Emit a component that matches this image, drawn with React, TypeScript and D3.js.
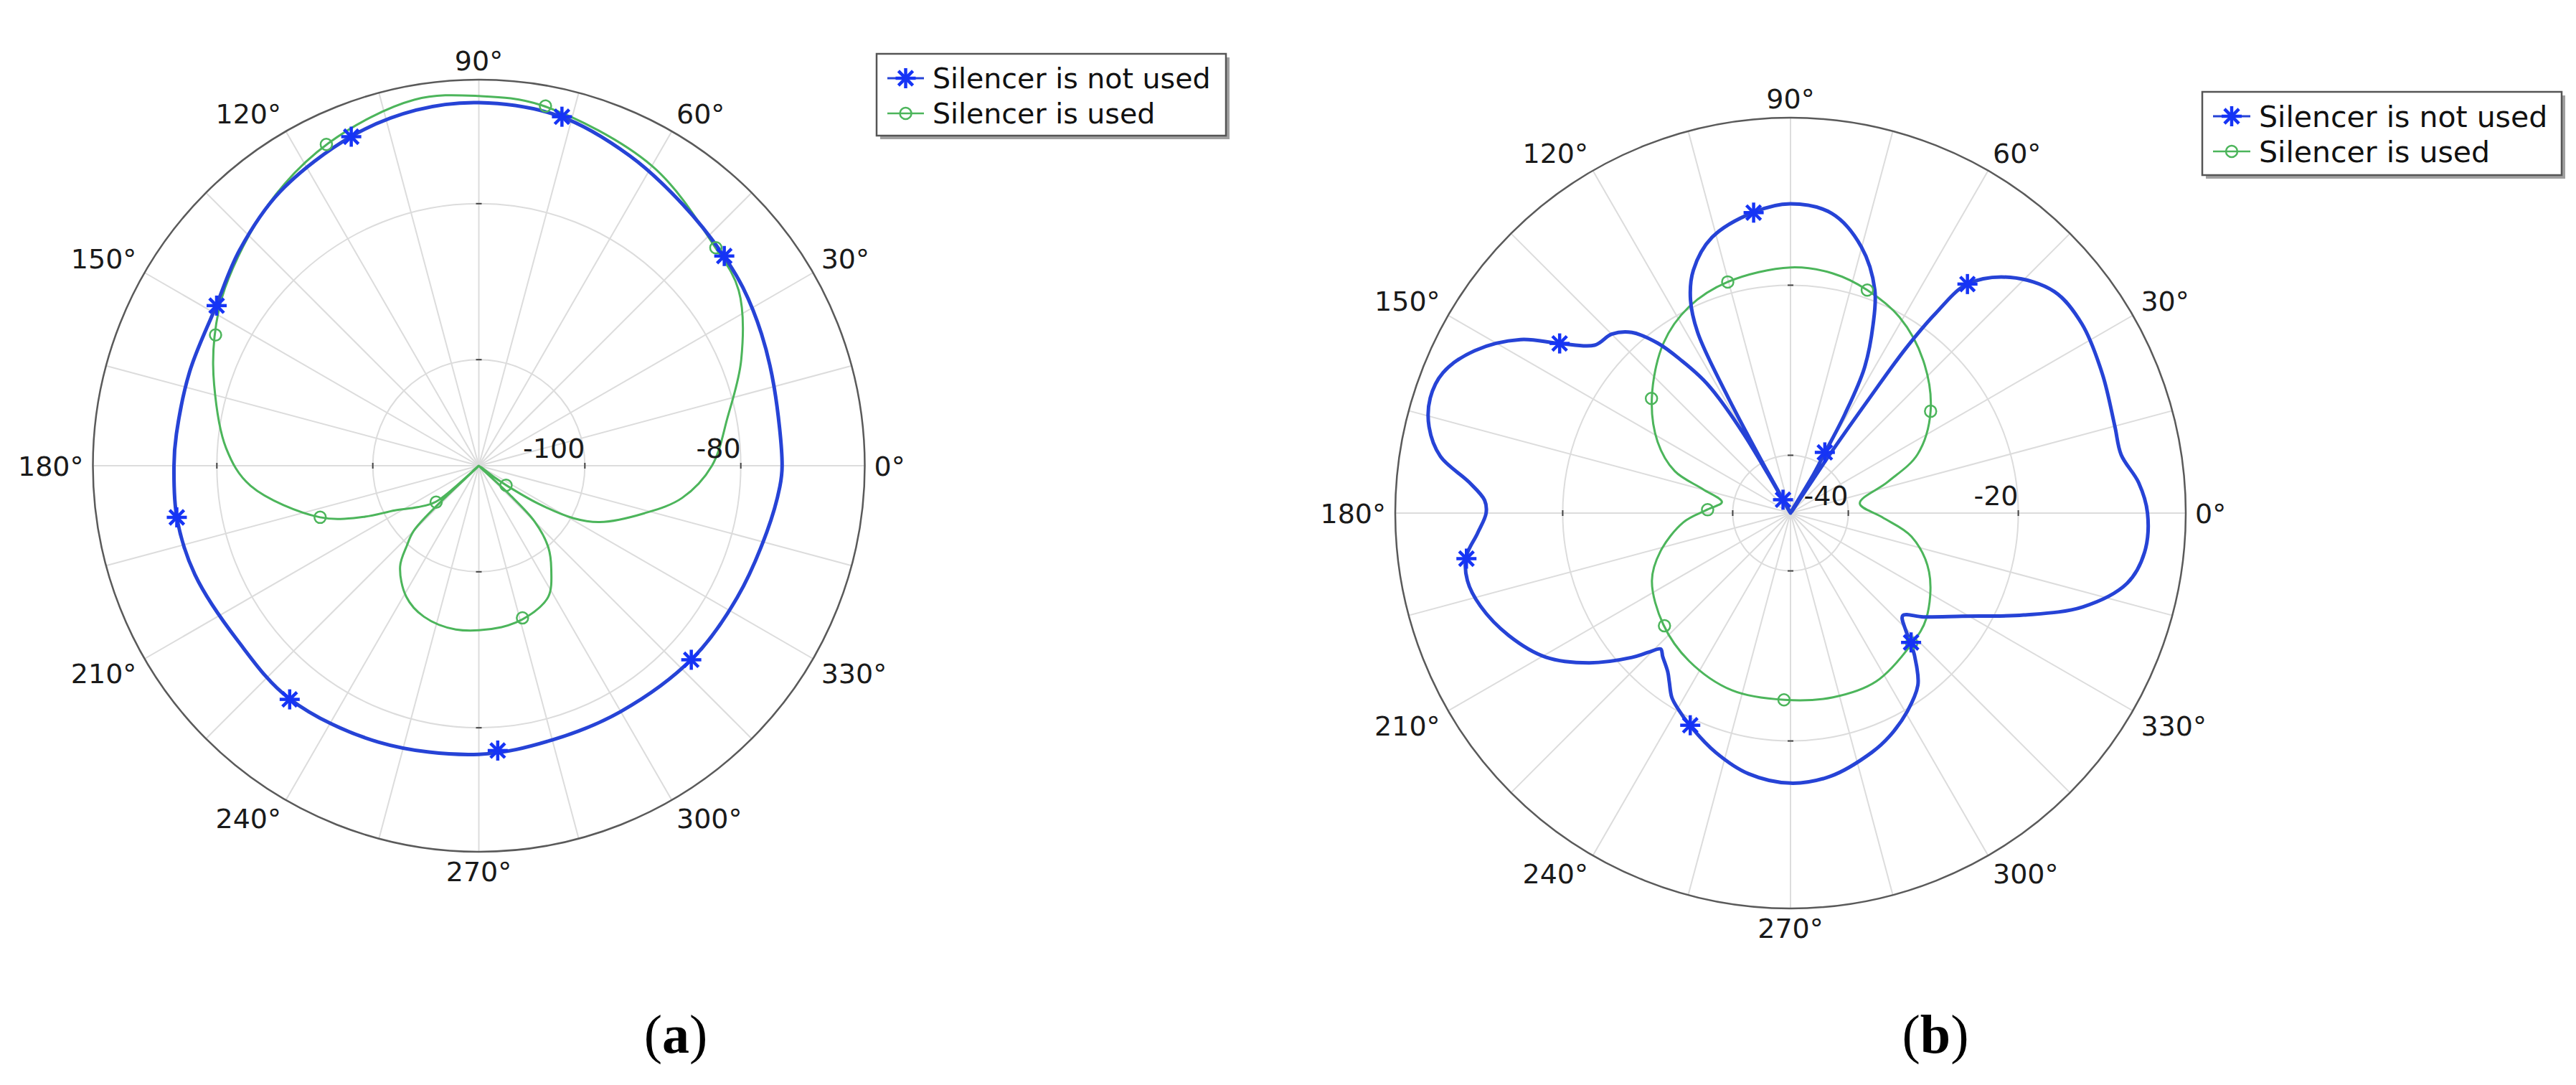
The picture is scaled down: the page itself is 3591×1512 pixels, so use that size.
import React from 'react'
import * as d3 from 'd3'

const W = 3591
const H = 1512

const seriesNames = ['Silencer is not used', 'Silencer is used']
const angleTicks = [0, 30, 60, 90, 120, 150, 180, 210, 240, 270, 300, 330]

// (a) radial axis
const ringTicksA = [-100, -80]
const domainA = [-113.6, -64.1]

// (a) silencer not used
const blueAngA = [0, 15, 25, 34, 41, 52, 64, 77, 90, 100, 111, 126, 138, 149, 162, 174, 180, 190, 201, 216, 231, 250, 270, 285, 300, 318, 333, 347, 356]
const blueDbA = [-74.7, -74.4, -73.6, -72.75, -72.2, -71.1, -69.4, -67.6, -67.05, -67.3, -68.3, -70.2, -72.3, -74.2, -74.6, -74.6, -74.5, -74.3, -74.6, -75.4, -75.1, -75.9, -76.6, -77.2, -77.2, -76.7, -76.4, -75.7, -74.9]
const blueMkAngA = [40.5, 76.6, 111.2, 148.6, 189.7, 231, 273.8, 317.6]
const blueMkDbA = [-72.2, -67.6, -68.35, -74.2, -74.3, -75.05, -77.0, -76.7]

// (a) silencer used
const greenAngA = [0, 11, 22, 34, 43, 60, 80, 90, 100, 115, 129, 145, 154, 163, 176, 185, 198, 204, 208, 214, 220, 222, 223.5, 225, 228, 232, 241, 250, 262, 278, 288, 298, 305, 310.5, 315, 316.8, 320, 323.5, 324.5, 327.5, 331, 335, 344, 351]
const greenDbA = [-83.7, -81.1, -77.3, -73.4, -72.3, -69.2, -66.7, -66.2, -65.95, -67.97, -70.6, -73.86, -75.88, -78.1, -81.1, -84.2, -92.2, -97.5, -101.4, -104.1, -106.4, -120, -106.2, -101.8, -99.8, -97.2, -94.4, -93.0, -92.4, -92.7, -93.3, -94.6, -97.4, -99.9, -103.5, -108.2, -120, -110.8, -109.3, -104.5, -99.7, -96.5, -91.5, -87.2]
const greenMkAngA = [42.6, 79.5, 115.4, 153.6, 198, 220.5, 286, 324.3]
const greenMkDbA = [-72.3, -66.7, -68.0, -75.9, -92.2, -106.4, -93.3, -109.3]

// (b) radial axis
const ringTicksB = [-40, -20]
const domainB = [-46.8, -0.3]

// (b) silencer not used
const blueAngB = [0, 5, 10, 15, 24, 33, 40, 47, 52.3, 54, 55, 55.5, 56.2, 57.5, 59.3, 60.3, 61.2, 63, 66.3, 69.3, 75.1, 82.1, 90, 97, 105.9, 111.8, 115.1, 117.2, 118.3, 119, 119.5, 120, 120.6, 122, 123.2, 125.5, 128, 131.3, 135, 139.4, 143.7, 147.3, 152.8, 158, 162.3, 166.6, 170.8, 174.5, 177.6, 180, 183.7, 187.7, 191.8, 196.7, 203.5, 210.5, 216.6, 222.3, 224.5, 226.3, 228.3, 232.3, 234.3, 237.2, 240, 244.5, 252.6, 260.9, 270, 278.7, 288.8, 294, 300.5, 306.5, 309.5, 312.7, 314.5, 317.6, 322, 329, 336.4, 342.2, 348.2, 353.7]
const blueDbB = [-4.8, -5.69, -7.3, -7.3, -6.63, -5.93, -6.28, -8.9, -12.76, -17.8, -23.19, -30.48, -38.76, -50, -41.44, -38.63, -33.53, -27.66, -22.65, -18.74, -14.4, -11.24, -10.43, -11.16, -13.09, -16.03, -19.06, -22.89, -30.72, -40.1, -50, -41.44, -36.08, -30.72, -28.07, -24.82, -21.45, -18.53, -17.05, -16.46, -13.11, -9.04, -5.02, -2.71, -2.31, -3.09, -5.07, -8.8, -10.78, -10.99, -9.9, -8.29, -7.97, -8.72, -10.67, -13.41, -17.27, -21.58, -23.48, -24.69, -24.2, -23.19, -22.36, -21.02, -20.27, -19.2, -17.32, -15.74, -15.04, -15.5, -17.08, -18.1, -19.73, -21.61, -23.48, -25.82, -27.45, -28.92, -26.97, -23.24, -16.86, -10.7, -6.36, -4.89]
const blueMkAngB = [52.3, 60.5, 97, 119.3, 143.7, 188, 244.7, 313]
const blueMkDbB = [-12.76, -38.6, -11.2, -45.0, -13.1, -8.3, -19.2, -26.0]

// (b) silencer used
const greenAngB = [8, 17.8, 24.8, 36, 49, 60.9, 71, 80, 90, 105.2, 116.2, 126.8, 140.3, 151.8, 160.1, 164.8, 170.9, 177.5, 184.9, 196.4, 206, 221.2, 235.5, 251.7, 268.2, 283, 297, 312.7, 322.1, 337, 349, 357.5]
const greenDbB = [-38.57, -34.77, -30.34, -26.43, -23.0, -20.43, -19.06, -18.18, -17.91, -18.63, -19.76, -21.85, -25.6, -29.06, -32.33, -36.16, -38.63, -37.04, -34.15, -30.85, -28.66, -26.91, -25.71, -24.85, -24.82, -24.56, -24.58, -25.82, -26.57, -29.09, -32.3, -36.03]
const greenMkAngB = [36, 71, 105.2, 140.5, 177.7, 221.8, 268, 313]
const greenMkDbB = [-26.43, -19.06, -18.63, -25.6, -37.04, -26.91, -24.82, -25.9]

const BLUE = '#2643d6'
const BLUE_MK = '#1634f5'
const GREEN = '#4cb55b'
const GRID = '#dcdcdc'
const FONT = 'DejaVu Sans, Verdana, sans-serif'

const zip = (a: number[], b: number[]) => a.map((v, i) => [v, b[i]] as [number, number])

function Star({ x, y, color }: { x: number; y: number; color: string }) {
  const s = 14
  const k = s * 0.72
  return (
    <g stroke={color} strokeWidth={4.5} strokeLinecap="butt">
      <line x1={x} y1={y - s} x2={x} y2={y + s} />
      <line x1={x - s} y1={y} x2={x + s} y2={y} />
      <line x1={x - k} y1={y - k} x2={x + k} y2={y + k} />
      <line x1={x - k} y1={y + k} x2={x + k} y2={y - k} />
    </g>
  )
}

function Ring({ x, y, color }: { x: number; y: number; color: string }) {
  return <circle cx={x} cy={y} r={8} fill="none" stroke={color} strokeWidth={2.5} />
}

type Panel = {
  cx: number
  cy: number
  R: number
  domain: number[]
  rings: number[]
  blue: [number, number][]
  green: [number, number][]
  blueMk: [number, number][]
  greenMk: [number, number][]
  legend: { x: number; y: number; w: number; h: number; fs: number; row1: number; row2: number; textX: number }
  label: string
  labelX: number
}

function PolarPanel({ p }: { p: Panel }) {
  const r = d3.scaleLinear().domain(p.domain).range([0, p.R]).clamp(true)
  const rad = (deg: number) => (deg * Math.PI) / 180
  const xy = (deg: number, v: number) => [r(v) * Math.cos(rad(deg)), -r(v) * Math.sin(rad(deg))]
  const path = d3
    .lineRadial<[number, number]>()
    .angle((d) => Math.PI / 2 - rad(d[0]))
    .radius((d) => r(d[1]))
    .curve(d3.curveCatmullRomClosed.alpha(0.5))
  const fs = 38
  const gap = 13
  const spokes = d3.range(0, 360, 15)
  const lg = p.legend

  return (
    <g>
      <g transform={`translate(${p.cx},${p.cy})`}>
        {spokes.map((a) => (
          <line key={a} x1={0} y1={0} x2={p.R * Math.cos(rad(a))} y2={-p.R * Math.sin(rad(a))} stroke={GRID} strokeWidth={2} />
        ))}
        {p.rings.map((v) => (
          <circle key={v} r={r(v)} fill="none" stroke={GRID} strokeWidth={2} />
        ))}
        {p.rings.map((v) =>
          [0, 90, 180, 270].map((a) => {
            const rr = r(v)
            const c = Math.cos(rad(a))
            const s = -Math.sin(rad(a))
            return (
              <line key={`${v}-${a}`} x1={rr * c - 4 * s} y1={rr * s - 4 * c} x2={rr * c + 4 * s} y2={rr * s + 4 * c} stroke="#444" strokeWidth={2} />
            )
          })
        )}
        <circle r={p.R} fill="none" stroke="#5a5a5a" strokeWidth={2.5} />
        <path d={path(p.green) || ''} fill="none" stroke={GREEN} strokeWidth={3} />
        <path d={path(p.blue) || ''} fill="none" stroke={BLUE} strokeWidth={5} />
        {p.greenMk.map((d, i) => {
          const [x, y] = xy(d[0], d[1])
          return <Ring key={i} x={x} y={y} color={GREEN} />
        })}
        {p.blueMk.map((d, i) => {
          const [x, y] = xy(d[0], d[1])
          return <Star key={i} x={x} y={y} color={BLUE_MK} />
        })}
        {angleTicks.map((a) => {
          const c = Math.cos(rad(a))
          const s = Math.sin(rad(a))
          const x = (p.R + gap) * c
          const y = -(p.R + gap) * s
          const anchor = c > 0.2 ? 'start' : c < -0.2 ? 'end' : 'middle'
          const dy = s > 0.2 ? 0 : s < -0.2 ? 0.73 * fs : 0.36 * fs
          return (
            <text key={a} x={x} y={y + dy} textAnchor={anchor} fontSize={fs} fontFamily={FONT} fill="#1a1a1a">
              {`${a}°`}
            </text>
          )
        })}
        {p.rings.map((v) => (
          <text key={v} x={r(v)} y={-11} textAnchor="end" fontSize={fs} fontFamily={FONT} fill="#1a1a1a">
            {String(v)}
          </text>
        ))}
      </g>
      <g>
        <rect x={lg.x + 5} y={lg.y + 5} width={lg.w} height={lg.h} fill="#a0a0a0" />
        <rect x={lg.x} y={lg.y} width={lg.w} height={lg.h} fill="#fff" stroke="#555" strokeWidth={2.5} />
        {[lg.row1, lg.row2].map((ry, i) => {
          const sx0 = lg.x + 15
          const sx1 = lg.textX - 12
          const mx = (sx0 + sx1) / 2
          const col = i === 0 ? BLUE : GREEN
          return (
            <g key={i}>
              <line x1={sx0} y1={ry} x2={sx1} y2={ry} stroke={col} strokeWidth={i === 0 ? 3 : 2.5} />
              {i === 0 ? <Star x={mx} y={ry} color={BLUE_MK} /> : <Ring x={mx} y={ry} color={GREEN} />}
              <text x={lg.textX} y={ry + 0.36 * lg.fs} fontSize={lg.fs} fontFamily={FONT} fill="#111">
                {seriesNames[i]}
              </text>
            </g>
          )
        })}
      </g>
      <text x={p.labelX} y={1467} textAnchor="middle" fontSize={76} fontFamily="Liberation Serif, Times New Roman, serif" fill="#000">
        (<tspan fontWeight="bold">{p.label}</tspan>)
      </text>
    </g>
  )
}

const panelA: Panel = {
  cx: 667.5,
  cy: 649,
  R: 538,
  domain: domainA,
  rings: ringTicksA,
  blue: zip(blueAngA, blueDbA),
  green: zip(greenAngA, greenDbA),
  blueMk: zip(blueMkAngA, blueMkDbA),
  greenMk: zip(greenMkAngA, greenMkDbA),
  legend: { x: 1222, y: 75, w: 487, h: 114, fs: 39.5, row1: 109, row2: 158, textX: 1300 },
  label: 'a',
  labelX: 942,
}

const panelB: Panel = {
  cx: 2496,
  cy: 715,
  R: 551,
  domain: domainB,
  rings: ringTicksB,
  blue: zip(blueAngB, blueDbB),
  green: zip(greenAngB, greenDbB),
  blueMk: zip(blueMkAngB, blueMkDbB),
  greenMk: zip(greenMkAngB, greenMkDbB),
  legend: { x: 3070, y: 128, w: 501, h: 116, fs: 41, row1: 162, row2: 211, textX: 3149 },
  label: 'b',
  labelX: 2698,
}

export default function App() {
  return (
    <svg width={W} height={H} viewBox={`0 0 ${W} ${H}`} style={{ position: 'absolute', left: 0, top: 0, background: '#fff' }}>
      <rect width={W} height={H} fill="#fff" />
      <PolarPanel p={panelA} />
      <PolarPanel p={panelB} />
    </svg>
  )
}
